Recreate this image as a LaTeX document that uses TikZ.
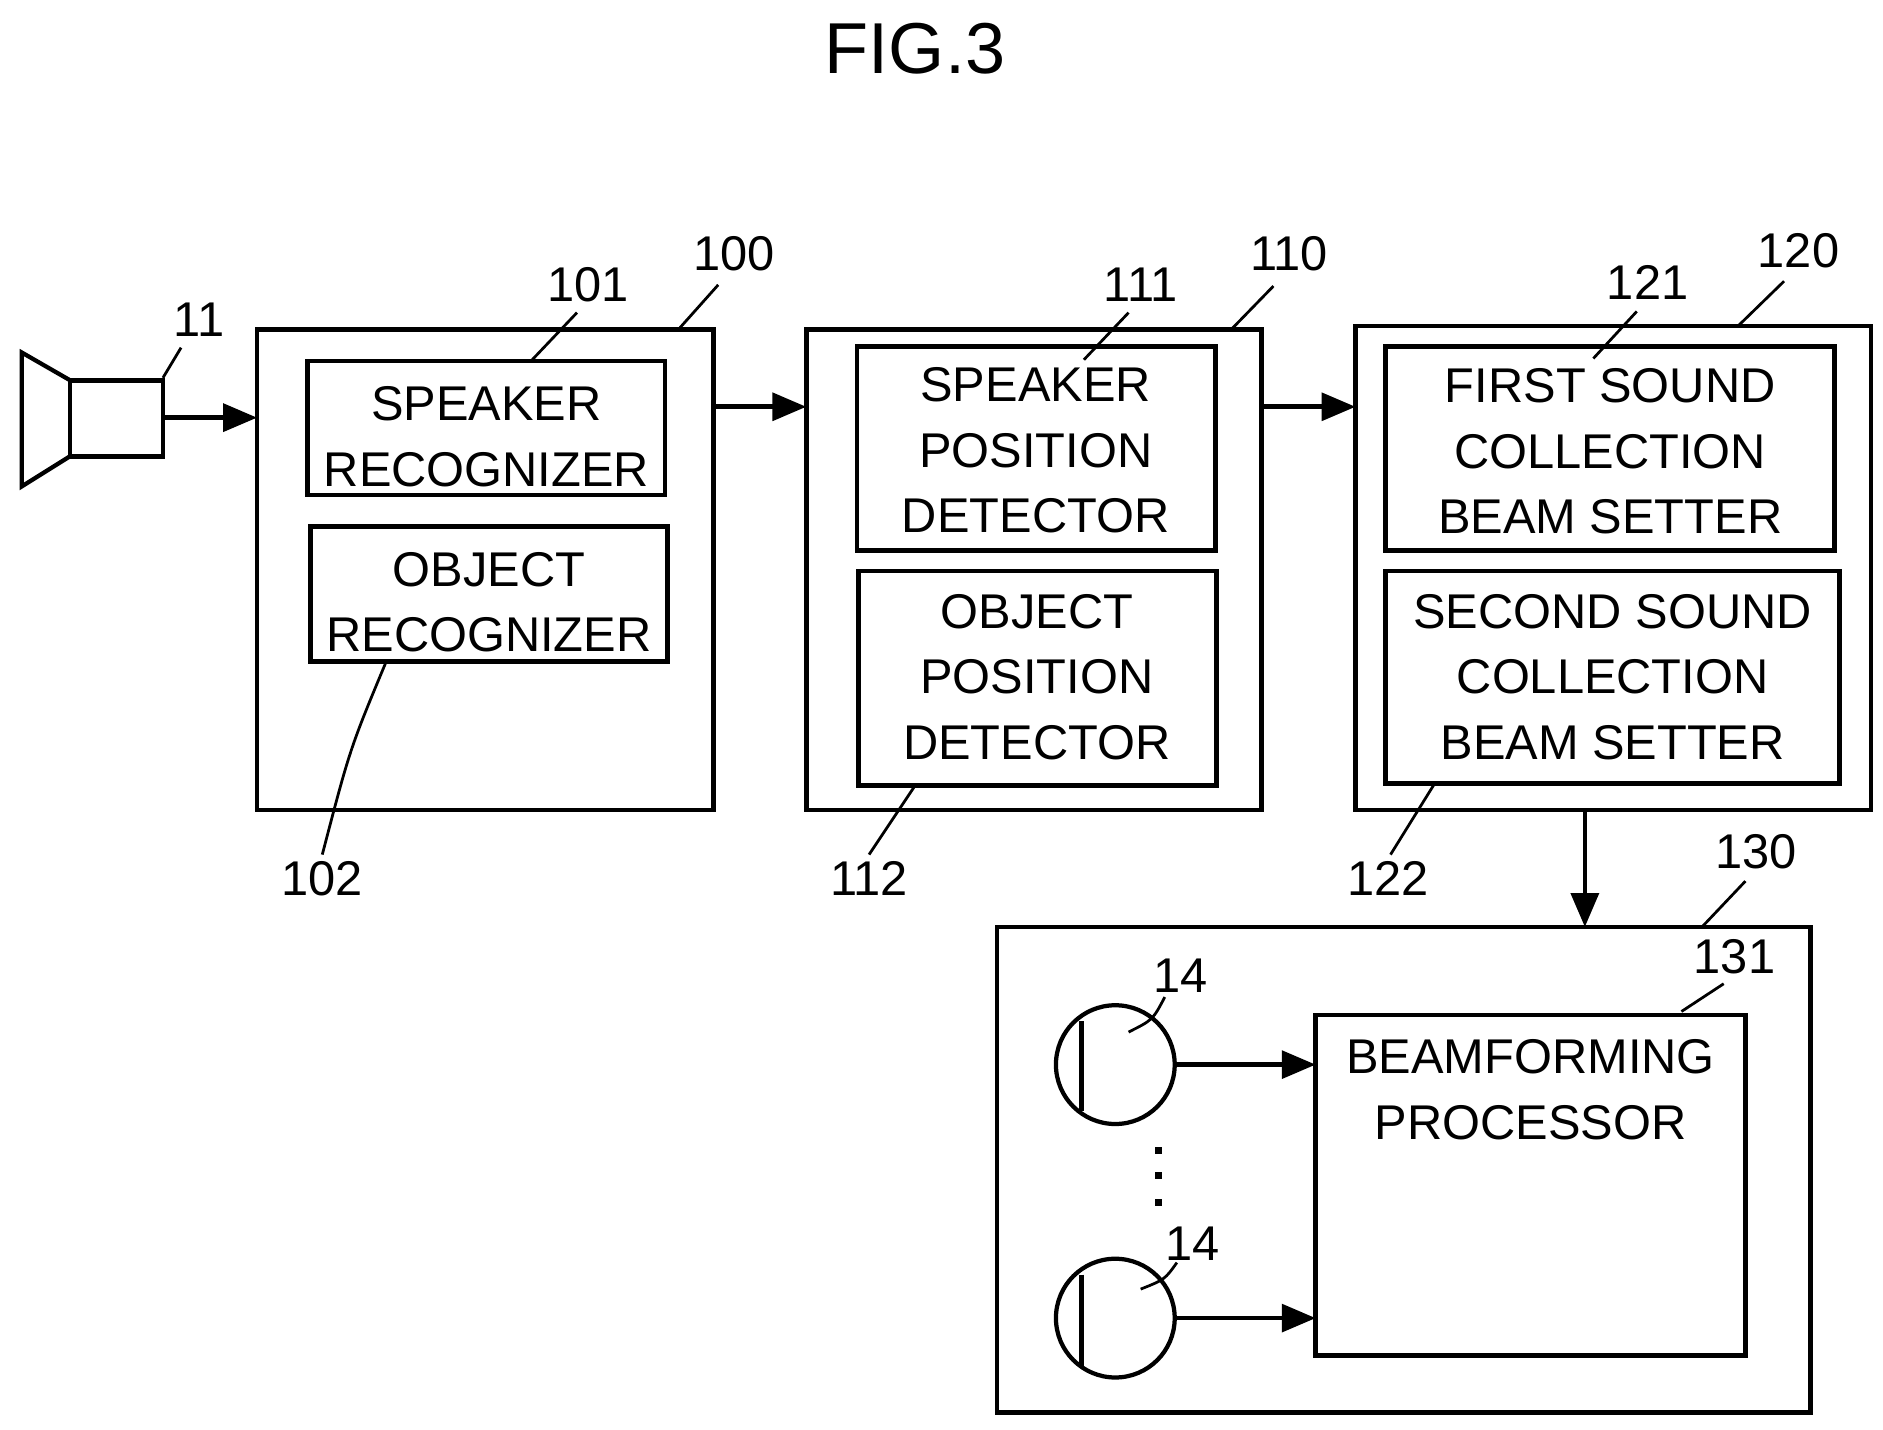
\documentclass[tikz,border=0pt]{standalone}
\usepackage{fontspec}
\setmainfont{Liberation Sans}
\usetikzlibrary{arrows.meta}

\tikzset{
  blk/.style={draw,line width=2.2pt},
  txt/.style={font=\fontsize{23}{31}\selectfont,align=center},
  num/.style={font=\fontsize{23}{28}\selectfont},
  lead/.style={line width=1.3pt},
  flow/.style={line width=2.2pt,-{Triangle[length=16pt,width=13pt]}}
}

\begin{document}
\begin{tikzpicture}[x=0.02cm,y=-0.02cm]
\useasboundingbox (0,0) rectangle (1560,1184);

\node[font=\fontsize{34}{40}\selectfont] (fig) at (758,40) {FIG.3};

% camera
\draw[line width=2pt] (58,315) -- (18,292) -- (18,403) -- (58,378);
\draw[blk] (58,315) rectangle (135,378);
\coordinate (cam) at (135,346);
\coordinate (camtop) at (135,313);
\node[num] (n11) at (165,265) {11};
\draw[lead] (camtop) -- (150,288);

% outer blocks
\draw[blk] (213,273) rectangle (591,671);
\draw[blk] (668,273) rectangle (1045,671);
\draw[blk] (1123,270) rectangle (1550,671);
\draw[blk] (826,768) rectangle (1500,1170);

% inner blocks
\draw[blk] (255,299) rectangle (551,410);
\node[txt] (b101) at (403,362) {SPEAKER\\RECOGNIZER};
\draw[blk] (257,436) rectangle (553,548);
\node[txt] (b102) at (405,499) {OBJECT\\RECOGNIZER};
\draw[blk] (710,287) rectangle (1007,456);
\node[txt] (b111) at (858,373) {SPEAKER\\POSITION\\DETECTOR};
\draw[blk] (711,473) rectangle (1008,651);
\node[txt] (b112) at (859,561) {OBJECT\\POSITION\\DETECTOR};
\draw[blk] (1148,287) rectangle (1520,456);
\node[txt] (b121) at (1334,374) {FIRST SOUND\\COLLECTION\\BEAM SETTER};
\draw[blk] (1148,473) rectangle (1524,649);
\node[txt] (b122) at (1336,561) {SECOND SOUND\\COLLECTION\\BEAM SETTER};
\draw[blk] (1090,841) rectangle (1446,1123);
\node[txt] (b131) at (1268,903) {BEAMFORMING\\PROCESSOR};

% reference numbers
\node[num] (n100) at (608,210) {100};
\draw[lead] (562,273) -- (595,236);
\node[num] (n101) at (487,236) {101};
\draw[lead] (440,299) -- (478,259);
\node[num] (n102) at (267,728) {102};
\draw[lead] (320,548) .. controls (290,620) .. (267,708);
\node[num] (n110) at (1068,210) {110};
\draw[lead] (1020,273) -- (1055,237);
\node[num] (n111) at (945,236) {111};
\draw[lead] (898,298) -- (935,259);
\node[num] (n112) at (720,728) {112};
\draw[lead] (758,651) -- (720,708);
\node[num] (n120) at (1490,208) {120};
\draw[lead] (1440,270) -- (1478,233);
\node[num] (n121) at (1365,234) {121};
\draw[lead] (1320,297) -- (1356,258);
\node[num] (n122) at (1150,728) {122};
\draw[lead] (1188,650) -- (1152,708);
\node[num] (n130) at (1455,706) {130};
\draw[lead] (1410,768) -- (1446,730);
\node[num] (n131) at (1437,793) {131};
\draw[lead] (1393,838) -- (1428,815);

% microphones
\node[draw,circle,line width=2pt,minimum size=56pt,inner sep=0pt] (mic1) at (924,882) {};
\draw[line width=2.2pt] (896,846) -- (896,920);
\node[draw,circle,line width=2pt,minimum size=56pt,inner sep=0pt] (mic2) at (924,1092) {};
\draw[line width=2.2pt] (896,1056) -- (896,1132);
\node[num] (n14a) at (978,808) {14};
\draw[lead] (935,855) .. controls (955,845) .. (965,826);
\node[num] (n14b) at (988,1030) {14};
\draw[lead] (945,1068) .. controls (965,1060) .. (975,1046);
\foreach \y in {950,971,993}
  \fill (957,\y) rectangle (963,\y+6);

% flow arrows
\draw[flow] (cam) -- (213,346);
\draw[flow] (591,337) -- (668,337);
\draw[flow] (1045,337) -- (1123,337);
\draw[flow] (1313,671) -- (1313,768);
\draw[flow] (mic1.east) -- (1090,882);
\draw[flow] (mic2.east) -- (1090,1092);
\end{tikzpicture}
\end{document}
